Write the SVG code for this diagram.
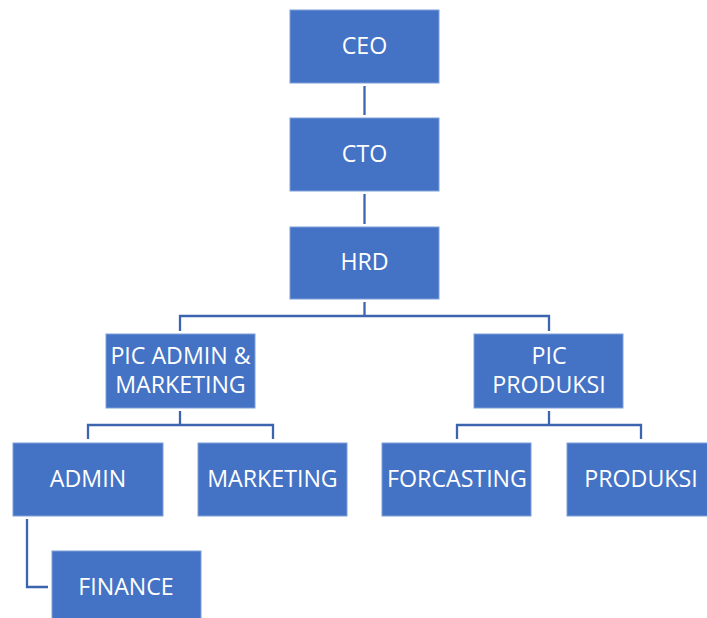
<svg xmlns="http://www.w3.org/2000/svg" width="707" height="618" viewBox="0 0 707 618">
  <style>
    .box { fill: #4472C4; stroke: #7FA0DA; stroke-width: 1; }
    .lbl { fill: #FFFFFF; font-family: "Open Sans", "Noto Sans", sans-serif; font-size: 23.2px; text-anchor: middle; }
    .wire { fill: none; stroke: #3D65AF; stroke-width: 2.3; }
  </style>
  <rect width="707" height="618" fill="#FFFFFF"/>

  <g id="connectors">
    <path class="wire" d="M364.5 86 V115"/>
    <path class="wire" d="M364.5 194 V224"/>
    <path class="wire" d="M364.5 302 V316 M180 331 V316 H549 V331"/>
    <path class="wire" d="M180 411 V425 M88 439 V425 H273 V439"/>
    <path class="wire" d="M549 411 V425 M457 439 V425 H641 V439"/>
    <path class="wire" d="M27 519 V587 H48"/>
  </g>

  <g id="ceo">
    <rect class="box" x="290" y="10" width="149" height="73"/>
    <text class="lbl" x="364.5" y="54">CEO</text>
  </g>
  <g id="cto">
    <rect class="box" x="290" y="118" width="149" height="73"/>
    <text class="lbl" x="364.5" y="162">CTO</text>
  </g>
  <g id="hrd">
    <rect class="box" x="290" y="227" width="149" height="72"/>
    <text class="lbl" x="364.5" y="270">HRD</text>
  </g>
  <g id="pic-admin-marketing">
    <rect class="box" x="106" y="334" width="149" height="74"/>
    <text class="lbl" x="180.5" y="364">PIC ADMIN &amp;</text>
    <text class="lbl" x="180.5" y="393">MARKETING</text>
  </g>
  <g id="pic-produksi">
    <rect class="box" x="474" y="334" width="149" height="74"/>
    <text class="lbl" x="549" y="364">PIC</text>
    <text class="lbl" x="549" y="393">PRODUKSI</text>
  </g>
  <g id="admin">
    <rect class="box" x="13" y="443" width="150" height="73"/>
    <text class="lbl" x="88" y="487">ADMIN</text>
  </g>
  <g id="marketing">
    <rect class="box" x="198" y="443" width="149" height="73"/>
    <text class="lbl" x="272.5" y="487">MARKETING</text>
  </g>
  <g id="forcasting">
    <rect class="box" x="382" y="443" width="149" height="73"/>
    <text class="lbl" x="457" y="487">FORCASTING</text>
  </g>
  <g id="produksi">
    <rect class="box" x="567" y="443" width="149" height="73"/>
    <text class="lbl" x="641" y="487">PRODUKSI</text>
  </g>
  <g id="finance">
    <rect class="box" x="52" y="551" width="149" height="70"/>
    <text class="lbl" x="126" y="595">FINANCE</text>
  </g>
</svg>
